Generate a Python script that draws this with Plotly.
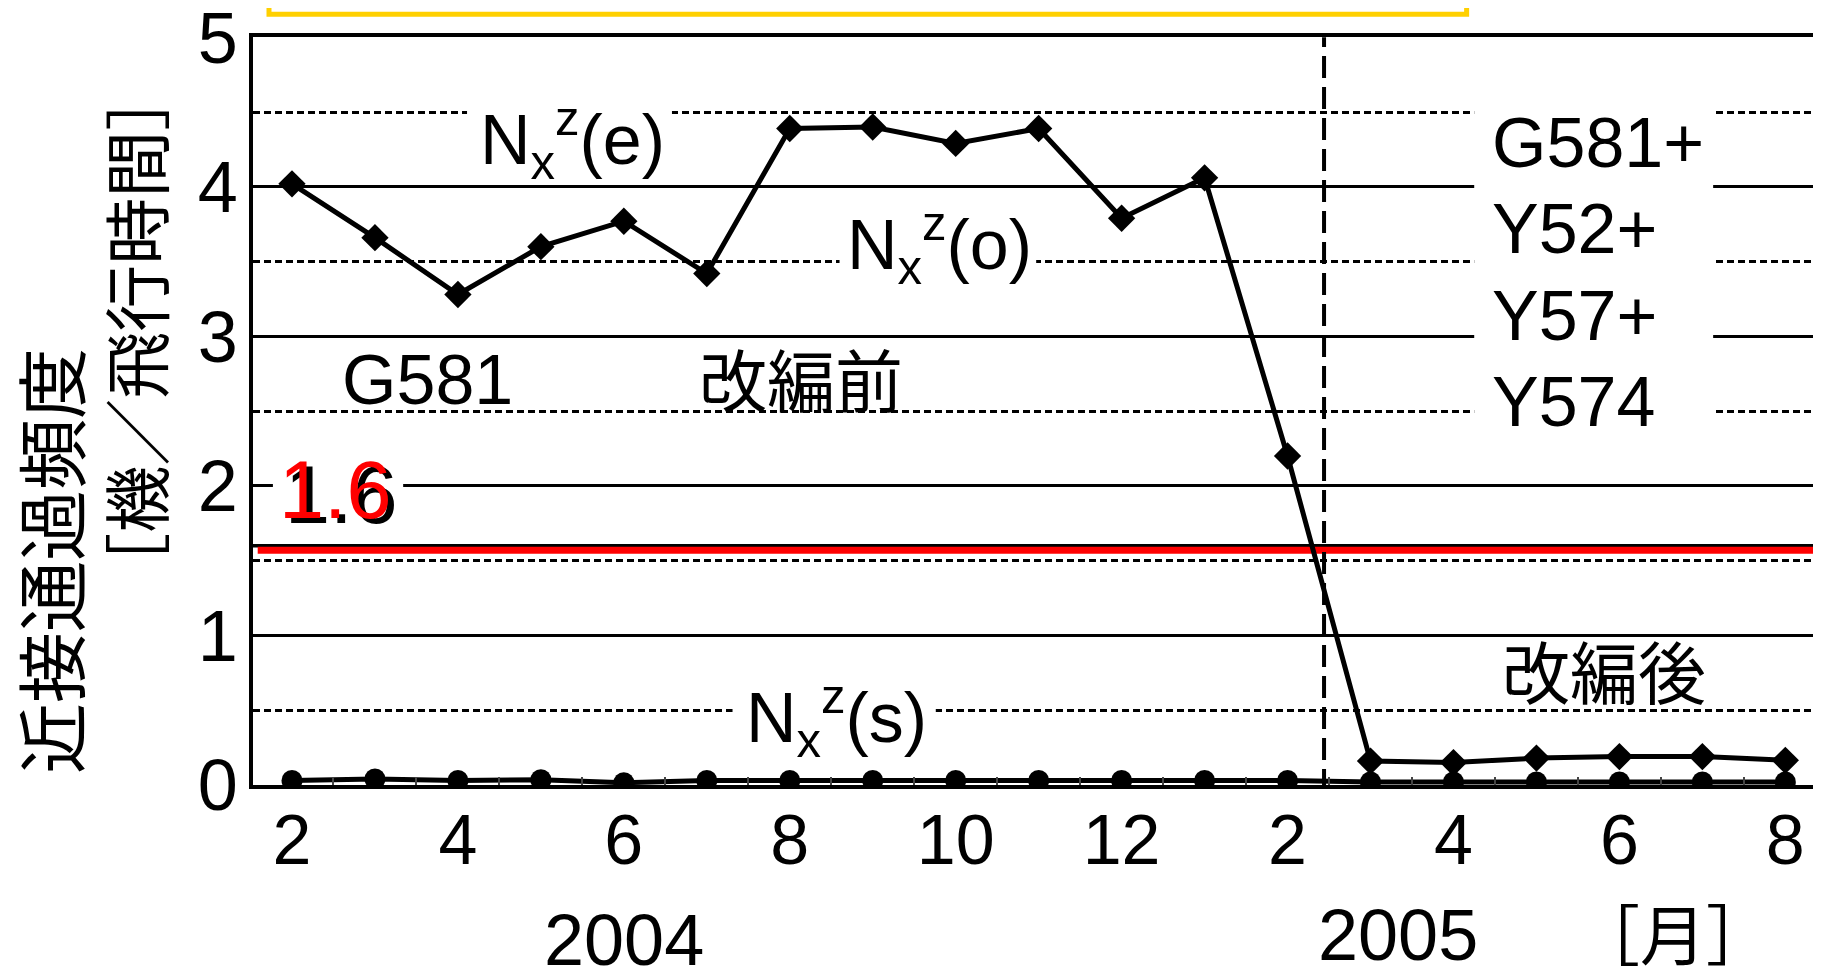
import plotly.graph_objects as go

# ---------------- data ----------------
MONTHS = ["2004-02", "2004-03", "2004-04", "2004-05", "2004-06", "2004-07",
          "2004-08", "2004-09", "2004-10", "2004-11", "2004-12", "2005-01",
          "2005-02", "2005-03", "2005-04", "2005-05", "2005-06", "2005-07",
          "2005-08"]
NXZ_EO = [4.02, 3.66, 3.28, 3.60, 3.77, 3.42, 4.39, 4.40, 4.29, 4.39, 3.79,
          4.06, 2.20, 0.16, 0.15, 0.18, 0.19, 0.19, 0.165]
NXZ_S = [0.03, 0.04, 0.03, 0.035, 0.015, 0.03, 0.03, 0.03, 0.03, 0.03, 0.03,
         0.03, 0.03, 0.02, 0.02, 0.02, 0.02, 0.02, 0.02]
TICK_LABELS = ["2", "4", "6", "8", "10", "12", "2", "4", "6", "8"]
THRESHOLD = 1.6
REORG_POS = 12.44          # between Feb-2005 and Mar-2005
ROUTES_AFTER = ["G581+", "Y52+", "Y57+", "Y574"]
ROUTE_Y = [4.29, 3.717, 3.135, 2.56]

FONT = "Liberation Sans, Arial, Noto Sans CJK JP, sans-serif"
JFONT = "Noto Sans CJK JP, Liberation Sans, sans-serif"

x = list(range(len(MONTHS)))

fig = go.Figure()
fig.add_trace(go.Scatter(
    x=x, y=NXZ_S, mode="lines+markers", name="Nxz(s)",
    line=dict(color="black", width=5),
    marker=dict(symbol="circle", size=21, color="black"),
    hoverinfo="skip", showlegend=False))
fig.add_trace(go.Scatter(
    x=x, y=NXZ_EO, mode="lines+markers", name="Nxz(e)+Nxz(o)",
    line=dict(color="black", width=5),
    marker=dict(symbol="diamond", size=21, color="black"),
    hoverinfo="skip", showlegend=False))


def white_box(x0, x1, y0, y1):
    return dict(type="rect", xref="x", yref="y", x0=x0, x1=x1, y0=y0, y1=y1,
                fillcolor="white", line=dict(width=0), layer="between")


shapes = [
    # white text boxes that interrupt the grid lines
    white_box(14.25, 17.13, 2.38, 4.62),   # route list
    white_box(2.11, 4.58, 4.42, 4.58),     # Nxz(e)
    white_box(6.60, 8.97, 3.42, 3.58),     # Nxz(o)
    white_box(5.31, 7.76, 0.42, 0.58),     # Nxz(s)
    white_box(-0.23, 1.34, 1.92, 2.08),    # 1.6 label
    # threshold: black line with red line just below
    dict(type="line", xref="paper", yref="y", x0=0, x1=1, y0=THRESHOLD, y1=THRESHOLD,
         line=dict(color="black", width=3.5), layer="between"),
    dict(type="line", xref="paper", yref="y", x0=0.003, x1=1,
         ysizemode="pixel", yanchor=THRESHOLD, y0=-4.5, y1=-4.5,
         line=dict(color="#ff0000", width=7), layer="between"),
    # reorganisation divider
    dict(type="line", xref="x", yref="y", x0=REORG_POS, x1=REORG_POS, y0=-0.04, y1=5,
         line=dict(color="black", width=4, dash="22px,9px"), layer="between"),
    # yellow frame cut at the top
    dict(type="rect", xref="paper", yref="paper", x0=0.0102, x1=0.774, y0=1.0305, y1=1.3,
         line=dict(color="#FFD000", width=5), fillcolor="rgba(0,0,0,0)", layer="above"),
]

ann = []


def add(text, xx, yy, size, xref="x", yref="y", color="black", family=FONT,
        xanchor="center", angle=0, xs=0, ys=0):
    ann.append(dict(text=text, x=xx, y=yy, xref=xref, yref=yref, showarrow=False,
                    font=dict(family=family, size=size, color=color), xanchor=xanchor,
                    yanchor="middle", textangle=angle, xshift=xs, yshift=ys))


add("N<sub>x</sub><sup>z</sup>(e)", 3.376, 4.31, 70)
add("N<sub>x</sub><sup>z</sup>(o)", 7.80, 3.61, 70)
add("N<sub>x</sub><sup>z</sup>(s)", 6.56, 0.445, 70)
add("G581", 1.63, 2.71, 70)
add("改編前", 6.14, 2.727, 68, family=JFONT)
add("改編後", 15.82, 0.77, 68, family=JFONT)
for r, yy in zip(ROUTES_AFTER, ROUTE_Y):
    add(r, 14.44, yy, 70, xanchor="left")
# threshold label with black shadow
add(str(THRESHOLD), 0.53, 1.975, 81, xs=6, ys=-5)
add(str(THRESHOLD), 0.53, 1.975, 81, color="#ff0000")
# y-axis title (two lines)
add("近接通過頻度", -0.1307, 0.2995, 71, xref="paper", yref="paper", family=JFONT, angle=-90)
add("［機／飛行時間］", -0.0759, 0.606, 67, xref="paper", yref="paper", family=JFONT, angle=-90)
# x-axis year / unit labels
add("2004", 4.0, -0.207, 72, yref="paper")
add("2005", 13.33, -0.2005, 72, yref="paper")
add("［月］", 16.65, -0.195, 66, yref="paper", family=JFONT)

fig.update_layout(
    width=1813, height=959, autosize=False,
    margin=dict(l=245, r=0, t=29, b=182, pad=0, autoexpand=False),
    paper_bgcolor="white", plot_bgcolor="white",
    font=dict(family=FONT, color="black"),
    shapes=shapes, annotations=ann,
    xaxis=dict(
        range=[-0.47, 18.43], tickmode="array", tickvals=x[::2], ticktext=TICK_LABELS,
        tickfont=dict(size=70, family=FONT), ticks="", ticklabelstandoff=-9,
        ticklabeloverflow="allow", automargin=False,
        showgrid=False, zeroline=False,
        showline=True, linecolor="black", linewidth=3.5, mirror=True,
        minor=dict(tickmode="linear", tick0=0.5, dtick=1, ticks="inside",
                   ticklen=8, tickwidth=1.5, tickcolor="#444", showgrid=False),
    ),
    yaxis=dict(
        range=[0, 5.002], tickmode="linear", tick0=0, dtick=1,
        tickfont=dict(size=72, family=FONT), ticks="", ticklabelstandoff=-3,
        ticklabeloverflow="allow", automargin=False,
        showgrid=True, gridcolor="black", gridwidth=2.5, zeroline=False,
        showline=True, linecolor="black", linewidth=3.5,
        minor=dict(tickmode="linear", tick0=0.5, dtick=1, showgrid=True,
                   gridcolor="black", gridwidth=2.5, griddash="7px,4px", ticks=""),
    ),
)

fig.write_html("out.html")
